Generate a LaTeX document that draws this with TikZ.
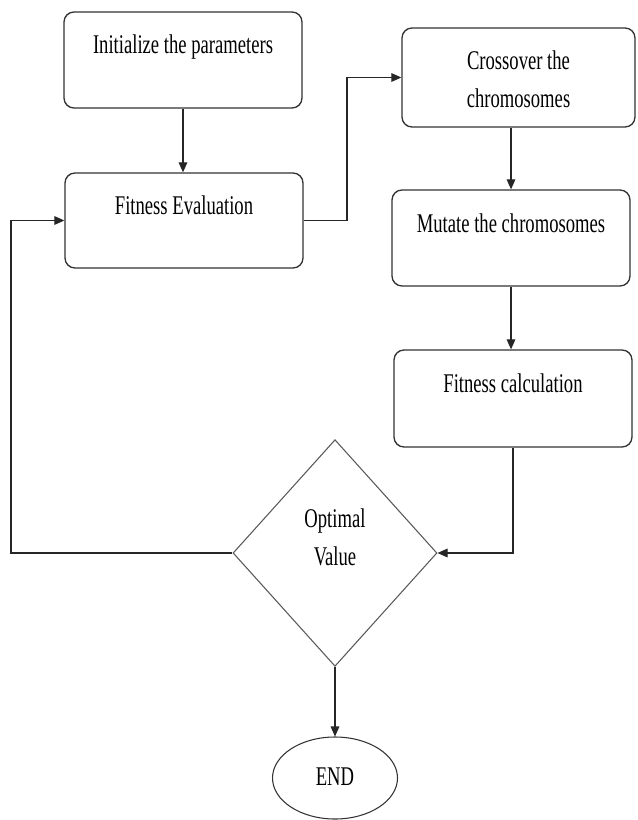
\documentclass[tikz,border=0pt]{standalone}
\usepackage{fontspec}
\setmainfont{Liberation Serif}
\usepackage{graphicx}
\usetikzlibrary{shapes.geometric,arrows.meta}

\newcommand{\narrowtext}[1]{\scalebox{0.69}[1]{\begin{tabular}[b]{@{}c@{}}#1\end{tabular}}}

\begin{document}
\begin{tikzpicture}[x=0.75pt,y=-0.75pt,
	stepfont/.style={font=\fontsize{20.25}{28}\selectfont},
	procbox/.style={draw=black!80,line width=1pt,rounded corners=7.5pt,minimum width=178.5pt,minimum height=72pt,inner sep=0pt,stepfont},
	oneline/.style={text height=15pt,text depth=24pt},
	link/.style={draw=black!85,line width=0.8pt},
	>={Triangle[length=7.5pt,width=6.5pt]}]

	\useasboundingbox (0,0) rectangle (637,820);

	% left column
	\node[procbox,oneline] (init) at (183,60) {\narrowtext{Initialize the parameters}};
	\node[procbox,oneline,minimum height=71.25pt] (fit) at (184,220.5) {\narrowtext{Fitness Evaluation}};

	% right column
	\node[procbox,minimum width=174.75pt,minimum height=74.25pt,text height=47.5pt,text depth=3pt] (cross) at (518.5,77.5) {\narrowtext{Crossover the\\chromosomes}};
	\node[procbox,oneline] (mut) at (511,238) {\narrowtext{Mutate the chromosomes}};
	\node[procbox,oneline,minimum height=72.75pt] (calc) at (513,398.5) {\narrowtext{Fitness calculation}};

	% decision and end
	\node[diamond,draw=black!65,line width=0.8pt,minimum width=153pt,minimum height=170pt,inner sep=0pt,stepfont,text height=47pt,text depth=29pt] (opt) at (335,553) {\narrowtext{Optimal\\Value}};
	\node[ellipse,draw=black!80,line width=0.8pt,minimum width=93.75pt,minimum height=61.5pt,inner sep=0pt,stepfont] (end) at (335,778) {\narrowtext{END}};

	\coordinate (jog) at (347,0);
	\coordinate (back) at (11,0);

	\draw[link,->] (init.south) -- (init.south |- fit.north);
	\draw[link,->] (fit.east) -| (jog |- cross.west) -- (cross.west);
	\draw[link,->] (mut.north |- cross.south) -- (mut.north);
	\draw[link,->] (mut.south) -- (mut.south |- calc.north);
	\draw[link,->] (calc.south) |- (opt.east);
	\draw[link,->] (opt.west) -| (back |- fit.west) -- (fit.west);
	\draw[link,->] (opt.south) -- (end.north);
\end{tikzpicture}
\end{document}
